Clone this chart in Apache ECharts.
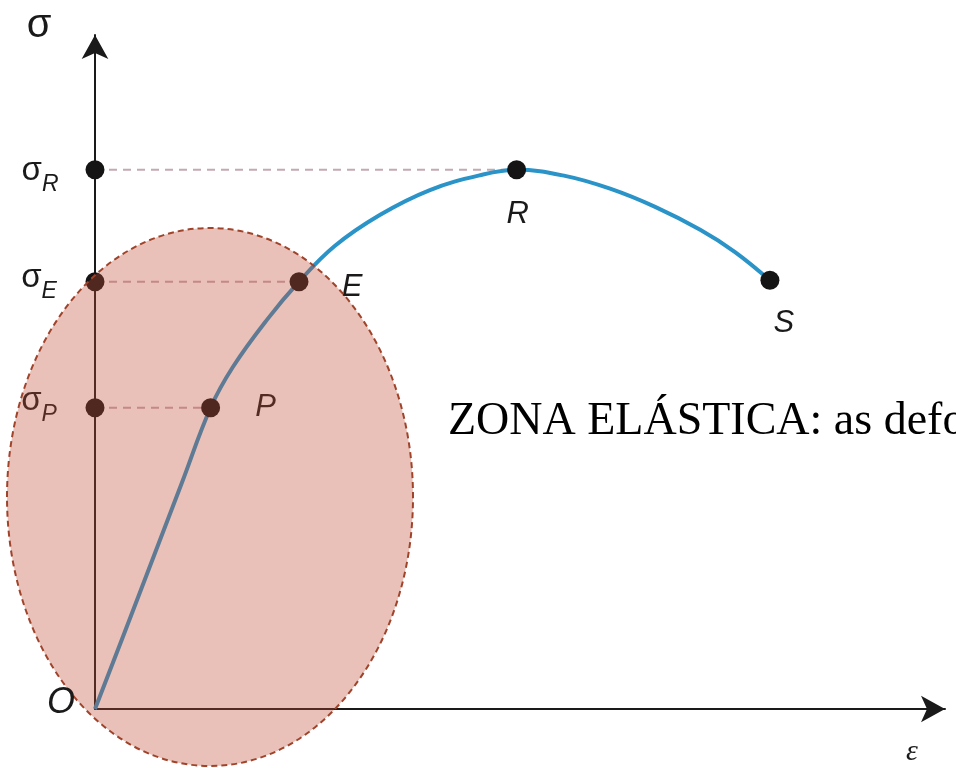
<!DOCTYPE html>
<html>
<head>
<meta charset="utf-8">
<script src="https://cdn.jsdelivr.net/npm/echarts@6/dist/echarts.min.js"></script>
<style>
html,body{margin:0;padding:0;background:#fff;}
#chart{width:956px;height:768px;}
</style>
</head>
<body>
<div id="chart"></div>
<script>
// curva tensão-deformação (unidades arbitrárias)
var curveX = [0, 0.34, 0.68, 1.02, 1.36, 1.62, 2.02, 2.40, 2.82, 3.35, 3.94, 4.53, 4.96, 5.53, 6.06, 6.59, 7.12, 7.53, 7.94];
var curveY = [0, 1.11, 2.23, 3.35, 4.47, 5.07, 5.77, 6.34, 6.87, 7.33, 7.70, 7.92, 8.00, 7.91, 7.72, 7.45, 7.11, 6.78, 6.36];

// pontos notáveis
var pointNames = ['P', 'E', 'R', 'S'];
var pointX = [1.36, 2.40, 4.96, 7.94];
var pointY = [4.47, 6.34, 8.00, 6.36];

// níveis de tensão no eixo (σP, σE, σR)
var levelNames = ['P', 'E', 'R'];
var levelY = [4.47, 6.34, 8.00];

var zoneText = 'ZONA ELÁSTICA: as deformações';

var chart = echarts.init(document.getElementById('chart'));

var curveData = [];
for (var i = 0; i < curveX.length; i++) curveData.push([curveX[i], curveY[i]]);

var labelOffsets = {P: [55, 0], E: [53, 6], R: [1, 45], S: [14, 43]};
var pointData = [];
for (var i = 0; i < pointNames.length; i++) {
    pointData.push({
        name: pointNames[i],
        value: [pointX[i], pointY[i]],
        label: {offset: labelOffsets[pointNames[i]]}
    });
}

var levelOffsets = {P: [-56, -7], E: [-56, -4], R: [-55, 1]};
var levelData = [];
for (var i = 0; i < levelNames.length; i++) {
    levelData.push({
        name: levelNames[i],
        value: [0, levelY[i]],
        label: {offset: levelOffsets[levelNames[i]]}
    });
}

var series = [];
// linhas tracejadas de cada nível até o ponto correspondente
for (var i = 0; i < levelNames.length; i++) {
    var k = pointNames.indexOf(levelNames[i]);
    series.push({
        type: 'line',
        data: [[0, levelY[i]], [pointX[k], pointY[k]]],
        symbol: 'none',
        silent: true,
        z: 1,
        lineStyle: {color: '#c4a9b0', width: 2, type: [8, 6]}
    });
}
series.push({
    type: 'line',
    data: curveData,
    smooth: 0.4,
    symbol: 'none',
    z: 2,
    lineStyle: {color: '#2a93c8', width: 4}
});
series.push({
    type: 'scatter',
    data: pointData,
    symbolSize: 19,
    z: 3,
    itemStyle: {color: '#141414', opacity: 1},
    label: {
        show: true,
        position: 'inside',
        formatter: '{b}',
        color: '#1a1a1a',
        fontFamily: 'Liberation Sans',
        fontStyle: 'italic',
        fontSize: 31
    }
});
series.push({
    type: 'scatter',
    data: levelData,
    symbolSize: 19,
    z: 3,
    itemStyle: {color: '#141414', opacity: 1},
    label: {
        show: true,
        position: 'inside',
        formatter: '{s|σ}{sub|{b}}',
        color: '#1a1a1a',
        rich: {
            s: {fontFamily: 'Liberation Sans', fontSize: 33, lineHeight: 50, color: '#1a1a1a'},
            sub: {fontFamily: 'Liberation Sans', fontStyle: 'italic', fontSize: 23, lineHeight: 20,
                  verticalAlign: 'bottom', color: '#1a1a1a'}
        }
    }
});

chart.setOption({
    backgroundColor: '#ffffff',
    animation: false,
    grid: {left: 95, right: 11, top: 35, bottom: 59},
    xAxis: {
        type: 'value', min: 0, max: 10,
        axisLine: {show: true, onZero: false, symbol: ['none', 'arrow'], symbolSize: [20, 24],
                   lineStyle: {color: '#1a1a1a', width: 2}},
        axisTick: {show: false}, axisLabel: {show: false}, splitLine: {show: false}
    },
    yAxis: {
        type: 'value', min: 0, max: 10,
        axisLine: {show: true, onZero: false, symbol: ['none', 'arrow'], symbolSize: [20, 24],
                   lineStyle: {color: '#1a1a1a', width: 2}},
        axisTick: {show: false}, axisLabel: {show: false}, splitLine: {show: false}
    },
    graphic: [
        {
            type: 'ellipse', z: 50, silent: true,
            shape: {cx: 210, cy: 497, rx: 203, ry: 269},
            style: {fill: 'rgba(195,78,52,0.35)', stroke: '#a0432b', lineWidth: 2, lineDash: [6, 4]}
        },
        {type: 'text', z: 60, x: 39, y: 26,
         style: {text: 'σ', font: '40px "Liberation Sans"', fill: '#1a1a1a', align: 'center', verticalAlign: 'middle'}},
        {type: 'text', z: 60, x: 61, y: 703,
         style: {text: 'O', font: 'italic 36px "Liberation Sans"', fill: '#1a1a1a', align: 'center', verticalAlign: 'middle'}},
        {type: 'text', z: 60, x: 912, y: 752,
         style: {text: 'ε', font: 'italic 30px "Liberation Serif"', fill: '#1a1a1a', align: 'center', verticalAlign: 'middle'}},
        {type: 'text', z: 60, x: 448, y: 422,
         style: {text: zoneText, font: '46px "Liberation Serif"', fill: '#000000', align: 'left', verticalAlign: 'middle'}}
    ],
    series: series
});
</script>
</body>
</html>
